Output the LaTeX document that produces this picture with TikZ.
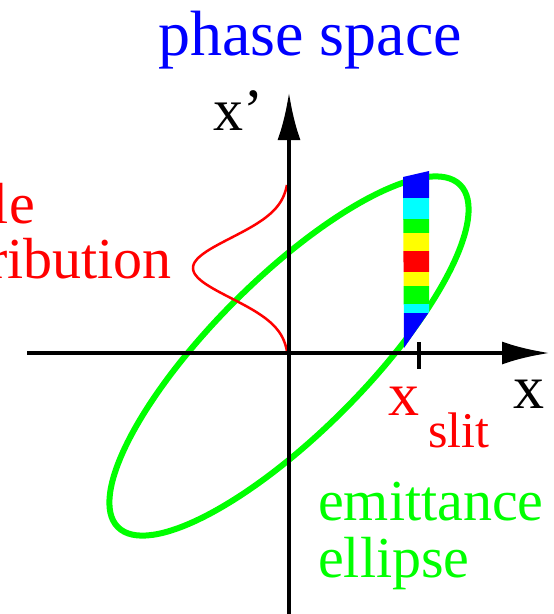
\documentclass[tikz,border=0pt]{standalone}
\usepackage{fontspec}
\IfFontExistsTF{LiberationSerif-Regular.ttf}{%
  \setmainfont{LiberationSerif-Regular.ttf}}{%
  \setmainfont{Liberation Serif}[UprightFont=* Regular]}
\usetikzlibrary{arrows.meta}
\definecolor{pgreen}{RGB}{0,255,0}
\definecolor{pred}{RGB}{255,0,0}
\definecolor{pblue}{RGB}{0,0,255}
\definecolor{pcyan}{RGB}{0,255,255}
\definecolor{pyellow}{RGB}{255,255,0}
\tikzset{
  axis/.style={line width=4.5pt, -{Latex[length=48pt,width=23pt]}},
  lbl/.style={inner sep=0pt, font=\rmfamily\fontsize{60}{60}\selectfont}
}
\begin{document}
\begin{tikzpicture}[x=1pt,y=-1pt]
\useasboundingbox (0,0) rectangle (554,614);
% title
\node[lbl, pblue, anchor=base west, font=\rmfamily\fontsize{64}{64}\selectfont] (title) at (158,55) {phase space};
% ellipse
\draw[pgreen, line width=6pt, rotate around={45:(289,356)}] (289,356) ellipse [x radius=242pt, y radius=77pt];
% slit band
\begin{scope}
\clip (403,177) -- (429,171) -- (429,312) -- (404,348) -- cycle;
\fill[pblue]   (400,165) rectangle (432,198);
\fill[pcyan]   (400,198) rectangle (432,219);
\fill[pgreen]  (400,219) rectangle (432,233);
\fill[pyellow] (400,233) rectangle (432,251);
\fill[pred]    (400,251) rectangle (432,272);
\fill[pyellow] (400,272) rectangle (432,286);
\fill[pgreen]  (400,286) rectangle (432,304);
\fill[pcyan]   (400,304) rectangle (432,313);
\fill[pblue]   (400,313) rectangle (432,352);
\end{scope}
% particle distribution
\draw[pred, line width=2.5pt] plot[domain=185:353, samples=90, smooth] ({289-96*exp(-((\x-268)^2)/1800)}, \x);
% axes
\coordinate (yb) at (289,614);
\coordinate (yt) at (289,92);
\coordinate (xl) at (27,353);
\coordinate (xr) at (550,353);
\draw[axis] (yb) -- (yt);
\draw[axis] (xl) -- (xr);
\coordinate (t1) at (419,342);
\coordinate (t2) at (419,369);
\draw[line width=4pt] (t1) -- (t2);
% labels
\node[lbl, anchor=base west] (xp) at (213,130) {x’};
\node[lbl, anchor=base west, font=\rmfamily\fontsize{62}{62}\selectfont] (xlab) at (513,408) {x};
\node[lbl, pred, anchor=base west, font=\rmfamily\fontsize{62}{62}\selectfont] (xs) at (388,415) {x};
\node[lbl, pred, anchor=base west, font=\rmfamily\fontsize{50}{50}\selectfont] (slit) at (428,447) {slit};
\node[lbl, pgreen, anchor=base west, font=\rmfamily\fontsize{58}{58}\selectfont] (em) at (318,520) {emittance};
\node[lbl, pgreen, anchor=base west, font=\rmfamily\fontsize{58}{58}\selectfont] (el) at (318,577) {ellipse};
\node[lbl, pred, anchor=base east, font=\rmfamily\fontsize{58}{58}\selectfont] (pa) at (35,223) {le};
\node[lbl, pred, anchor=base east, font=\rmfamily\fontsize{58}{58}\selectfont] (di) at (172,278) {ribution};
\end{tikzpicture}
\end{document}
